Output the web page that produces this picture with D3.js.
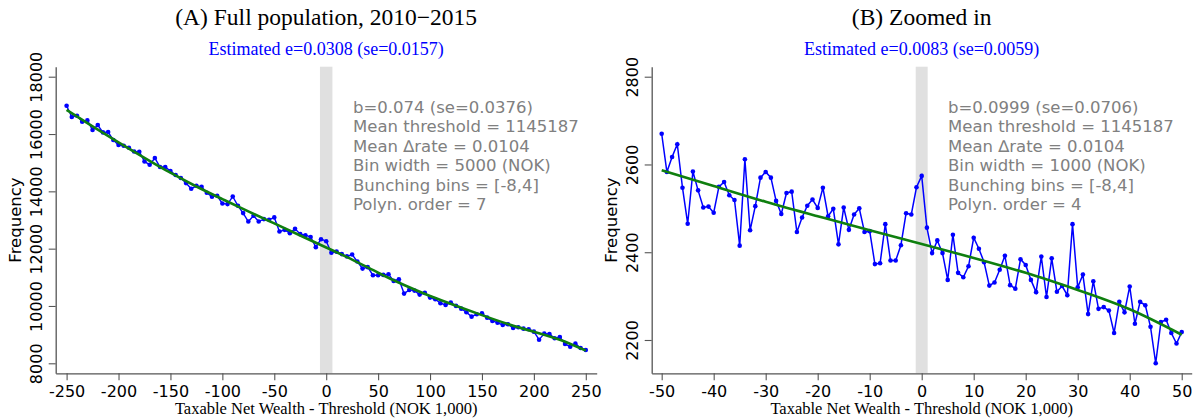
<!DOCTYPE html>
<html>
<head>
<meta charset="utf-8">
<script src="https://cdn.jsdelivr.net/npm/d3@7"></script>
<style>
  html, body { margin: 0; padding: 0; background: #fff; }
  svg { display: block; }
</style>
</head>
<body>
<svg id="chart" width="1199" height="420"></svg>
<script>
// ---- Panel A: full population, bins of 5 (NOK 1,000) ----
const xFull = d3.range(-250, 251, 5);
const freqFull = [
  16988, 16594, 16639, 16430, 16475, 16140, 16314, 16056, 16070, 15791,
  15616, 15591, 15521, 15392, 15382, 15043, 14927, 15161, 14847, 14847,
  14707, 14568, 14463, 14288, 14089, 14194, 14159, 13949, 13810, 13845,
  13576, 13554, 13820, 13495, 13240, 12947, 13146, 12947, 13031, 13006,
  13090, 12597, 12657, 12541, 12692, 12506, 12470, 12405, 12052, 12330,
  12260, 11860, 11895, 11810, 11730, 11794, 11550, 11305, 11354, 11074,
  11074, 11085, 11109, 10875, 10934, 10432, 10561, 10536, 10397, 10456,
  10292, 10236, 10096, 10037, 10117, 10002, 9907, 9781, 9628, 9712,
  9747, 9593, 9478, 9418, 9338, 9362, 9233, 9258, 9209, 9188,
  9104, 8824, 9034, 9024, 8873, 8919, 8674, 8580, 8685, 8534,
  8465
];
// counterfactual polynomial fit, sampled along the axis
const fitFullX = [-250, -225, -200, -175, -150, -125, -100, -75, -50, -25, 0,
                  25, 50, 75, 100, 125, 150, 175, 200, 225, 250];
const fitFull = [16840, 16270, 15710, 15170, 14650, 14170, 13730, 13300, 12880, 12460, 12040,
                 11620, 11160, 10730, 10350, 10010, 9680, 9370, 9100, 8820, 8440];
const bandFull = [-6, 6];
const ticksXFull = [-250, -200, -150, -100, -50, 0, 50, 100, 150, 200, 250];
const ticksYFull = [8000, 10000, 12000, 14000, 16000, 18000];
const notesFull = [
  "b=0.074 (se=0.0376)",
  "Mean threshold = 1145187",
  "Mean \u2206rate = 0.0104",
  "Bin width = 5000 (NOK)",
  "Bunching bins = [-8,4]",
  "Polyn. order = 7"
];

// ---- Panel B: zoomed in, bins of 1 (NOK 1,000) ----
const xZoom = d3.range(-50, 51, 1);
const freqZoom = [
  2670, 2583, 2617, 2646, 2547, 2465, 2584, 2541, 2502, 2504,
  2490, 2549, 2560, 2530, 2519, 2415, 2612, 2450, 2505, 2570,
  2583, 2570, 2517, 2487, 2535, 2538, 2446, 2479, 2506, 2520,
  2501, 2547, 2482, 2499, 2418, 2502, 2451, 2486, 2500, 2446,
  2448, 2373, 2375, 2464, 2381, 2381, 2416, 2489, 2486, 2548,
  2574, 2456, 2398, 2427, 2398, 2337, 2440, 2353, 2343, 2368,
  2433, 2408, 2377, 2324, 2331, 2360, 2392, 2325, 2317, 2384,
  2371, 2337, 2309, 2390, 2298, 2386, 2310, 2323, 2302, 2464,
  2320, 2349, 2259, 2334, 2271, 2275, 2267, 2216, 2287, 2263,
  2322, 2237, 2287, 2279, 2230, 2147, 2241, 2246, 2216, 2192,
  2218
];
const fitZoomX = [-50, -40, -30, -20, -10, 0, 10, 20, 30, 40, 50];
const fitZoom = [2587, 2551, 2515, 2482, 2450, 2419, 2387, 2353, 2314, 2270, 2212];
const bandZoom = [-1.15, 1.15];
const ticksXZoom = [-50, -40, -30, -20, -10, 0, 10, 20, 30, 40, 50];
const ticksYZoom = [2200, 2400, 2600, 2800];
const notesZoom = [
  "b=0.0999 (se=0.0706)",
  "Mean threshold = 1145187",
  "Mean \u2206rate = 0.0104",
  "Bin width = 1000 (NOK)",
  "Bunching bins = [-8,4]",
  "Polyn. order = 4"
];

const svg = d3.select("#chart");
const SERIF = "'Liberation Serif', 'Times New Roman', serif";
const SANS = "'DejaVu Sans', sans-serif";
const AXIS_COLOR = "#555";
// plain integer labels with an ASCII hyphen for negatives
const plainNum = d => String(d);

function panel(cfg) {
  const x = d3.scaleLinear().domain(cfg.xDomain).range([cfg.left, cfg.right]);
  const y = d3.scaleLinear().domain(cfg.yDomain).range([cfg.bottom, cfg.top]);
  const g = svg.append("g");
  const cx = (cfg.left + cfg.right) / 2;

  // titles
  g.append("text").attr("x", cx).attr("y", 25)
    .attr("text-anchor", "middle").attr("font-family", SERIF)
    .attr("font-size", "23.5px").attr("fill", "#000").text(cfg.title);
  g.append("text").attr("x", cx).attr("y", 55)
    .attr("text-anchor", "middle").attr("font-family", SERIF)
    .attr("font-size", "18px").attr("fill", "#0000ff").text(cfg.subtitle);

  // bunching window
  g.append("rect")
    .attr("x", x(cfg.band[0])).attr("width", x(cfg.band[1]) - x(cfg.band[0]))
    .attr("y", cfg.top).attr("height", cfg.bottom - cfg.top)
    .attr("fill", "#e0e0e0");

  // axes
  const ax = g.append("g").attr("transform", `translate(0,${cfg.bottom})`)
    .call(d3.axisBottom(x).tickValues(cfg.ticksX).tickFormat(plainNum)
      .tickSize(7).tickSizeOuter(0));
  ax.selectAll("text").attr("font-family", SANS).attr("font-size", "16px")
    .attr("fill", "#000").attr("dy", null).attr("y", 23.5);
  const ay = g.append("g").attr("transform", `translate(${cfg.left},0)`)
    .call(d3.axisLeft(y).tickValues(cfg.ticksY).tickFormat(plainNum)
      .tickSize(7).tickSizeOuter(0));
  ay.selectAll("text")
    .attr("x", null).attr("dy", null)
    .attr("transform", "translate(-14,0) rotate(-90)")
    .attr("text-anchor", "middle")
    .attr("font-family", SANS).attr("font-size", "16px").attr("fill", "#000");
  [ax, ay].forEach(a => {
    a.select(".domain").attr("stroke", AXIS_COLOR).attr("stroke-width", 1.3);
    a.selectAll(".tick line").attr("stroke", AXIS_COLOR).attr("stroke-width", 1.1);
  });

  // axis titles
  g.append("text")
    .attr("transform", `translate(${cfg.left - 35},${(cfg.top + cfg.bottom) / 2}) rotate(-90)`)
    .attr("text-anchor", "middle").attr("font-family", SANS)
    .attr("font-size", "16.5px").attr("fill", "#000").text("Frequency");
  g.append("text").attr("x", cx).attr("y", 414)
    .attr("text-anchor", "middle").attr("font-family", SERIF)
    .attr("font-size", "16.5px").attr("fill", "#000")
    .text("Taxable Net Wealth - Threshold (NOK 1,000)");

  // observed frequencies
  const pts = cfg.xs.map((v, i) => [v, cfg.freq[i]]);
  g.append("path").datum(pts)
    .attr("d", d3.line().x(d => x(d[0])).y(d => y(d[1])))
    .attr("fill", "none").attr("stroke", "#0000ff").attr("stroke-width", cfg.lineW);
  g.append("g").selectAll("circle").data(pts).join("circle")
    .attr("cx", d => x(d[0])).attr("cy", d => y(d[1])).attr("r", 2.3)
    .attr("fill", "#0000ff");

  // fitted counterfactual
  const fit = cfg.fitX.map((v, i) => [v, cfg.fit[i]]);
  g.append("path").datum(fit)
    .attr("d", d3.line().curve(d3.curveNatural).x(d => x(d[0])).y(d => y(d[1])))
    .attr("fill", "none").attr("stroke", "#0f7f0f").attr("stroke-width", 2.6);

  // estimation notes
  g.append("g").selectAll("text").data(cfg.notes).join("text")
    .attr("x", cfg.noteX).attr("y", (d, i) => 112.8 + i * 19.5)
    .attr("font-family", SANS).attr("font-size", "16.5px").attr("fill", "#808080")
    .text(d => d);
}

panel({
  left: 55.7, right: 596.7, top: 66.7, bottom: 373.3,
  xDomain: [-260.5, 260.5], yDomain: [7651, 18349],
  title: "(A) Full population, 2010\u22122015",
  subtitle: "Estimated e=0.0308 (se=0.0157)",
  xs: xFull, freq: freqFull, fitX: fitFullX, fit: fitFull,
  band: bandFull, ticksX: ticksXFull, ticksY: ticksYFull,
  notes: notesFull, noteX: 353, lineW: 1.4
});

panel({
  left: 651.7, right: 1191.7, top: 66.7, bottom: 373.3,
  xDomain: [-51.92, 51.92], yDomain: [2124.1, 2822.8],
  title: "(B) Zoomed in",
  subtitle: "Estimated e=0.0083 (se=0.0059)",
  xs: xZoom, freq: freqZoom, fitX: fitZoomX, fit: fitZoom,
  band: bandZoom, ticksX: ticksXZoom, ticksY: ticksYZoom,
  notes: notesZoom, noteX: 948, lineW: 1.5
});
</script>
</body>
</html>
